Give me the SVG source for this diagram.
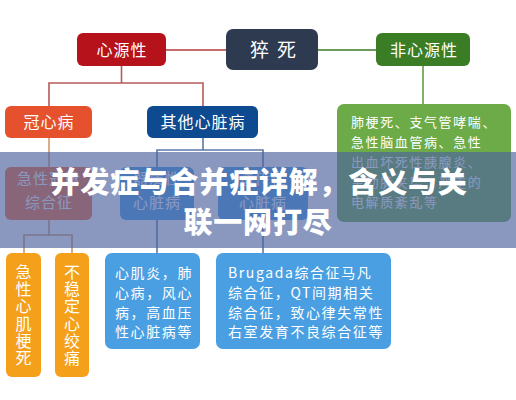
<svg xmlns="http://www.w3.org/2000/svg" width="516" height="400" viewBox="0 0 516 400">
<style>
text{font-family:"Noto Sans CJK SC","Noto Sans",sans-serif;fill:#fff}
.lbl{font-size:16px;letter-spacing:1px;text-anchor:middle}
.sm{font-size:14px;letter-spacing:1.6px}
.gn{font-size:13px;letter-spacing:1.6px}
.vt{font-size:16px;text-anchor:middle}
.ln{fill:none;stroke-width:1.6}
.title{font-size:29px;font-weight:900;text-anchor:middle;letter-spacing:0.8px}
</style>
<rect width="516" height="400" fill="#fff"/>
<g id="connectors">
<path class="ln" stroke="#b23c3c" d="M166 50H226"/>
<path class="ln" stroke="#3d7a2a" d="M318 50H376"/>
<path class="ln" stroke="#b65a5a" d="M121.5 66V83M49 106V83H203V106"/>
<path class="ln" stroke="#5f9c45" d="M423 66V104"/>
<path class="ln" stroke="#cf9a66" d="M49 138V167M49 220V235M24 253V235H72V253"/>
<path class="ln" stroke="#5b77a6" d="M203 138V150M157 167V150H263V167M157 220V253M263 220V253"/>
</g>
<g id="node-cusi"><rect x="226" y="29" width="92" height="41" rx="7" fill="#2e3a4f"/><text style="font-size:19px"><tspan x="250" y="57">猝</tspan><tspan x="277" y="57">死</tspan></text></g>
<g id="node-xinyuanxing"><rect x="77" y="33" width="89" height="33" rx="6" fill="#b6121b"/><text class="lbl" x="122" y="55.5">心源性</text></g>
<g id="node-feixinyuanxing"><rect x="376" y="33" width="94" height="33" rx="6" fill="#3a7d24"/><text class="lbl" x="424" y="55.5">非心源性</text></g>
<g id="node-guanxinbing"><rect x="5" y="106" width="87" height="32" rx="6" fill="#e5502d"/><text class="lbl" x="49" y="128">冠心病</text></g>
<g id="node-qita"><rect x="147" y="106" width="111" height="32" rx="6" fill="#0d4a8f"/><text class="lbl" x="203" y="128">其他心脏病</text></g>
<g id="node-feixin-list"><rect x="337" y="104" width="174" height="118" rx="7" fill="#6cab47"/>
<text class="gn"><tspan x="351" y="127">肺梗死、支气管哮喘、</tspan><tspan x="351" y="147">急性脑血管病、急性</tspan><tspan x="351" y="167">出血坏死性胰腺炎、</tspan><tspan x="351" y="187">主动脉夹层、严重的</tspan><tspan x="351" y="207">电解质紊乱等</tspan></text></g>
<g id="node-acs"><rect x="5" y="167" width="87" height="53" rx="6" fill="#f86a30"/><text class="lbl" style="font-size:15px"><tspan x="49" y="184">急性冠脉</tspan><tspan x="49" y="208">综合征</tspan></text></g>
<g id="node-qizhi"><rect x="120" y="167" width="74" height="53" rx="6" fill="#4a9fe2"/><text class="lbl" style="font-size:15px"><tspan x="157" y="184">器质性</tspan><tspan x="157" y="208">心脏病</tspan></text></g>
<g id="node-yichuan"><rect x="218" y="167" width="90" height="53" rx="6" fill="#4a9fe2"/><text class="lbl" style="font-size:15px"><tspan x="263" y="184">遗传性</tspan><tspan x="263" y="208">心脏病</tspan></text></g>
<g id="node-ami"><rect x="6" y="253" width="35" height="124" rx="6" fill="#f5a01a"/><text class="vt"><tspan x="23.5" y="278">急</tspan><tspan x="23.5" y="295">性</tspan><tspan x="23.5" y="312">心</tspan><tspan x="23.5" y="330">肌</tspan><tspan x="23.5" y="347">梗</tspan><tspan x="23.5" y="364">死</tspan></text></g>
<g id="node-ua"><rect x="55" y="253" width="34" height="124" rx="6" fill="#f5a01a"/><text class="vt"><tspan x="72" y="278">不</tspan><tspan x="72" y="295">稳</tspan><tspan x="72" y="312">定</tspan><tspan x="72" y="330">心</tspan><tspan x="72" y="347">绞</tspan><tspan x="72" y="364">痛</tspan></text></g>
<g id="node-xinjiyan"><rect x="105" y="253" width="95" height="96" rx="7" fill="#4a9fe2"/><text class="sm"><tspan x="115" y="277.5">心肌炎，肺</tspan><tspan x="115" y="297.5">心病，风心</tspan><tspan x="115" y="317.5">病，高血压</tspan><tspan x="115" y="336.5">性心脏病等</tspan></text></g>
<g id="node-brugada"><rect x="216" y="253" width="175" height="96" rx="7" fill="#4a9fe2"/><text class="sm"><tspan x="228" y="277.5">Brugada综合征马凡</tspan><tspan x="228" y="297.5">综合征，QT间期相关</tspan><tspan x="228" y="317.5">综合征，致心律失常性</tspan><tspan x="228" y="336.5">右室发育不良综合征等</tspan></text></g>
<g id="title-banner"><rect x="0" y="152" width="516" height="96" fill="#4d63a0" opacity="0.66"/>
<text class="title"><tspan x="259" y="193">并发症与合并症详解，含义与关</tspan><tspan x="258" y="233">联一网打尽</tspan></text></g>
</svg>
